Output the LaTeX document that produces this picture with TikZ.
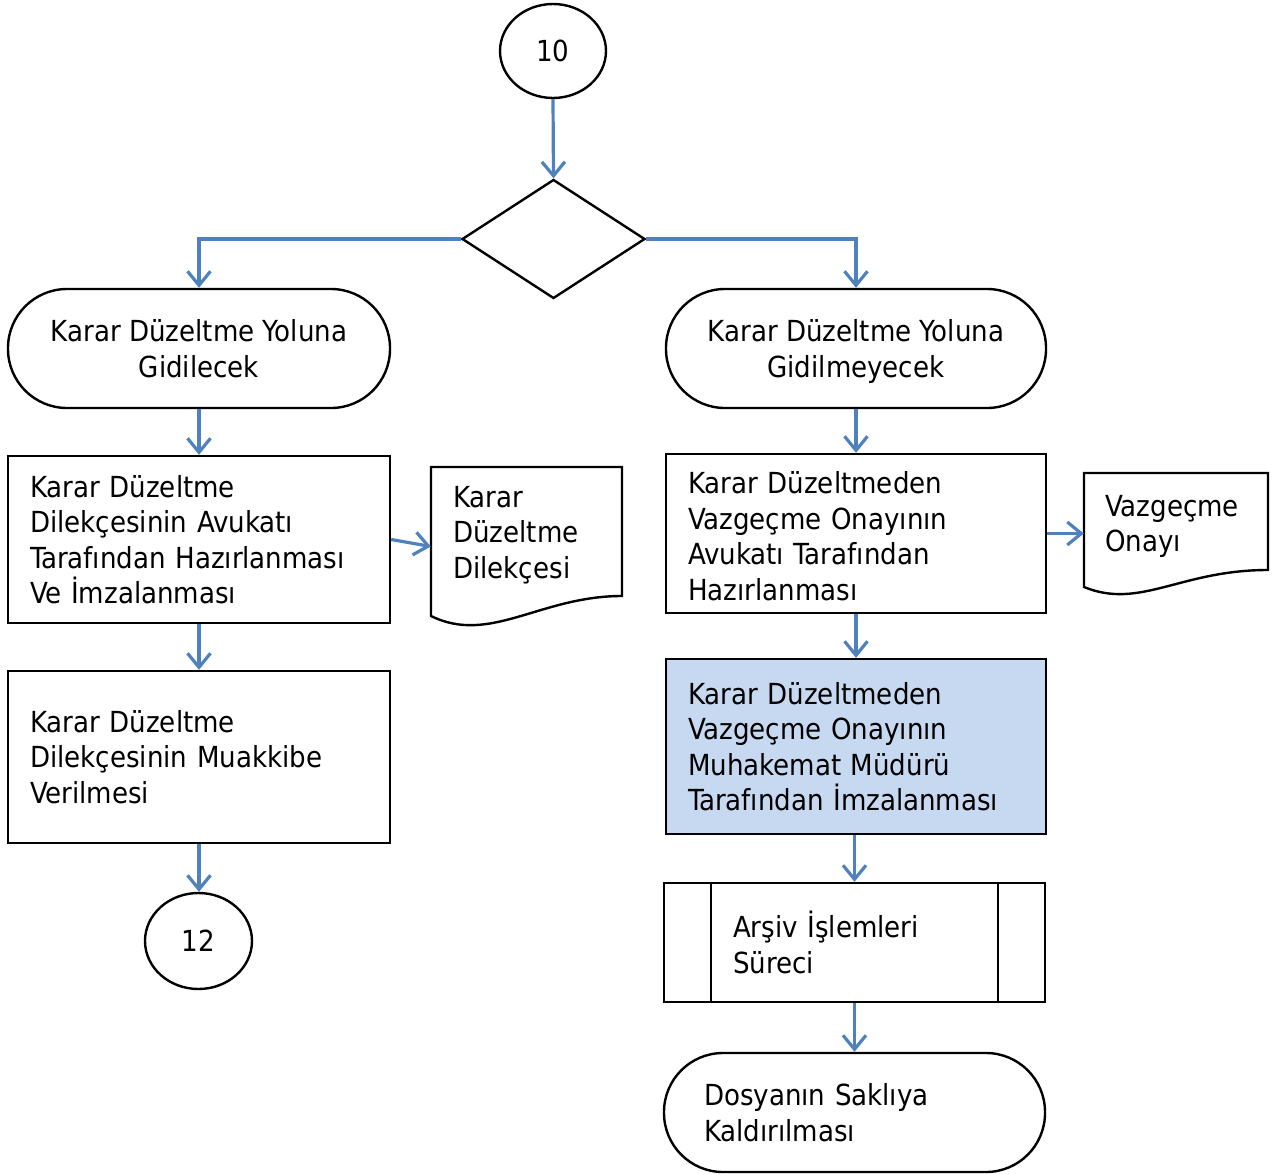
\documentclass[tikz,border=0pt]{standalone}
\usepackage{fontspec}
\setmainfont{DejaVu Sans Condensed}
\usetikzlibrary{shapes.geometric,arrows.meta}
\definecolor{arrowblue}{HTML}{4F81BD}
\definecolor{boxblue}{HTML}{C6D9F1}
\begin{document}
\begin{tikzpicture}[x=1pt,y=-1pt,
  font=\fontsize{29}{35.5}\selectfont,
  outl/.style={draw=black, line width=2.4pt},
  arr/.style={draw=arrowblue, line width=3.2pt, -{Straight Barb[length=14pt,width=23pt]}},
  circ/.style={ellipse, outl, inner sep=0pt},
  term/.style={rectangle, outl, rounded corners=59pt, minimum height=119pt},
  procbox/.style={rectangle, outl, align=left, inner xsep=22pt, inner ysep=0pt},
  docnode/.style={rectangle, draw=none, inner sep=0pt},
  doctext/.style={anchor=north west, align=left, inner sep=0pt}
]
\useasboundingbox (0,0) rectangle (1274,1174);

% start
\node[circ, minimum width=106pt, minimum height=94pt] (c10) at (553,51) {10};
\node[diamond, outl, minimum width=183pt, minimum height=119pt, inner sep=0pt] (dec) at (553.5,239) {};

% terminators
\node[term, minimum width=382pt, align=center] (tL) at (199,348.5) {Karar Düzeltme Yoluna\\Gidilecek};
\node[term, minimum width=380pt, align=center] (tR) at (856,348.5) {Karar Düzeltme Yoluna\\\raisebox{0pt}[\height][0pt]{Gidilmeyecek}};

% left column
\node[procbox, text width=338pt, minimum height=167pt] (pL1) at (199,539.5)
  {Karar Düzeltme\\Dilekçesinin Avukatı\\Tarafından Hazırlanması\\Ve İmzalanması};
\node[procbox, text width=338pt, minimum height=172pt] (pL2) at (199,757)
  {Karar Düzeltme\\Dilekçesinin Muakkibe\\Verilmesi};
\node[circ, minimum width=107pt, minimum height=96pt] (c12) at (198.5,941) {12};

% left document
\node[docnode, minimum width=191pt, minimum height=149pt] (dL) at (526.5,541.5) {};
\draw[outl] (431,616) -- (431,467) -- (622,467) -- (622,596)
  .. controls (540,596) and (490,645) .. (431,616) -- cycle;
\node[doctext] (dLt) at (453,486) {Karar\\Düzeltme\\Dilekçesi};

% right column
\node[procbox, text width=336pt, minimum height=159pt] (pR1) at (856,533.5)
  {\rule{0pt}{27pt}Karar Düzeltmeden\\Vazgeçme Onayının\\Avukatı Tarafından\\Hazırlanması};
\node[procbox, fill=boxblue, text width=336pt, minimum height=175pt] (pR2) at (856,746.5)
  {Karar Düzeltmeden\\Vazgeçme Onayının\\Muhakemat Müdürü\\Tarafından İmzalanması};
\node[procbox, inner xsep=69pt, text width=243pt, minimum height=119pt] (pp) at (854.5,942.5)
  {Arşiv İşlemleri\\Süreci};
\draw[outl] ([xshift=48pt]pp.north west) -- ([xshift=48pt]pp.south west);
\draw[outl] ([xshift=-48pt]pp.north east) -- ([xshift=-48pt]pp.south east);
\node[term, align=left, inner xsep=40pt, text width=301pt] (tB) at (854.5,1112.5)
  {Dosyanın Saklıya\\Kaldırılması};

% right document
\node[docnode, minimum width=184pt, minimum height=114pt] (dR) at (1176,530) {};
\draw[outl] (1084,587) -- (1084,473) -- (1268,473) -- (1268,570)
  .. controls (1180,570) and (1140,610) .. (1084,587) -- cycle;
\node[doctext] (dRt) at (1105,495) {Vazgeçme\\Onayı};

% connectors
\draw[arr] (c10.south) -- (dec.north);
\draw[arr] (dec.west) -| (tL.north);
\draw[arr] (dec.east) -| (tR.north);
\draw[arr] (tL.south) -- (pL1.north);
\draw[arr] (pL1.east) -- ([yshift=-5pt]dL.west);
\draw[arr] (pL1.south) -- (pL2.north);
\draw[arr] (pL2.south) -- (pL2.south |- c12.north);
\draw[arr] (tR.south) -- (pR1.north);
\draw[arr] (pR1.east) -- (pR1.east -| dR.west);
\draw[arr] (pR1.south) -- (pR2.north);
\draw[arr] (pp.north |- pR2.south) -- (pp.north);
\draw[arr] (pp.south) -- (tB.north);
\end{tikzpicture}
\end{document}
